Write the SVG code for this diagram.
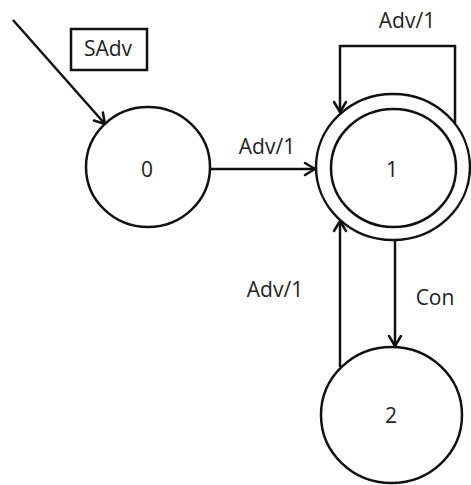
<svg xmlns="http://www.w3.org/2000/svg" width="471" height="485" viewBox="0 0 471 485">
<style>
.n{fill:#fff;stroke:#111;stroke-width:2.5}
.e{fill:none;stroke:#111;stroke-width:2.5;marker-end:url(#a)}
.t{font-family:"Open Sans","Liberation Sans",sans-serif;font-size:21px;fill:#222;text-anchor:middle}
.b{fill:#fff;stroke:#111;stroke-width:2.5}
</style>
<defs>
<marker id="a" markerUnits="userSpaceOnUse" viewBox="-12 -8 14 16" refX="0" refY="0" markerWidth="14" markerHeight="16" orient="auto">
<path d="M-10,-6 L0,0 L-10,6" fill="none" stroke="#111" stroke-width="2.5" stroke-linecap="round" stroke-linejoin="round"/>
</marker>
</defs>
<rect width="471" height="485" fill="#fff"/>
<g id="connectors">
<path class="e" d="M13,20 L105,124"/>
<path class="e" d="M210,169 L315,169"/>
<path class="e" d="M455,123 L455,46 L340,46 L340,112"/>
<path class="e" d="M395,240 L395,346"/>
<path class="e" d="M340,367 L340,221"/>
</g>
<g id="label-sadv">
<rect class="b" x="71" y="29" width="76" height="41"/>
<text class="t" x="108" y="56">SAdv</text>
</g>
<g id="node0">
<ellipse class="n" cx="148" cy="167" rx="62" ry="60"/>
<text class="t" x="147" y="177">0</text>
</g>
<g id="node1">
<ellipse class="n" cx="393" cy="167" rx="77" ry="73"/>
<ellipse class="n" cx="393.5" cy="168" rx="62.5" ry="59"/>
<text class="t" x="392" y="177">1</text>
</g>
<g id="node2">
<ellipse class="n" cx="391.5" cy="415" rx="70.5" ry="68"/>
<text class="t" x="391" y="423">2</text>
</g>
<g id="edge-labels">
<text class="t" x="407" y="28">Adv/1</text>
<text class="t" x="267" y="154">Adv/1</text>
<text class="t" x="275" y="297">Adv/1</text>
<text class="t" x="435" y="305">Con</text>
</g>
</svg>
